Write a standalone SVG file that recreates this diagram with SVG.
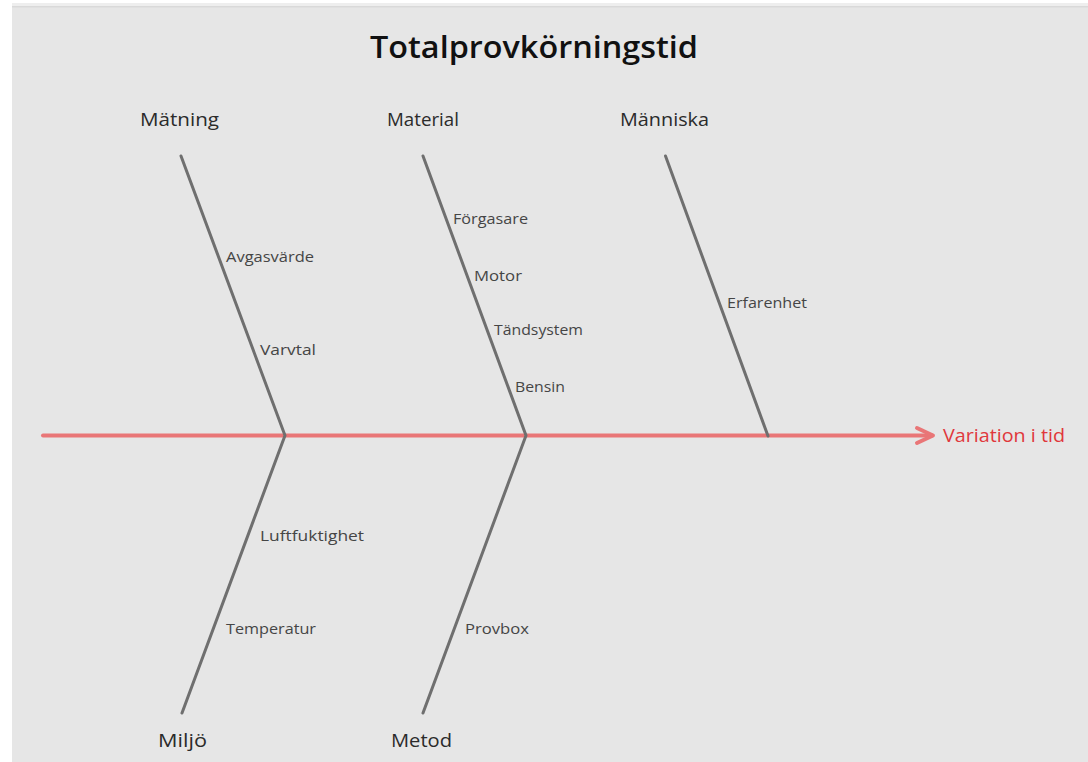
<svg xmlns="http://www.w3.org/2000/svg" width="1088" height="762" viewBox="0 0 1088 762">
  <defs>
    <style>
      .bone { fill: none; stroke: #6f6f6f; stroke-width: 3; stroke-linecap: round; stroke-linejoin: round; }
      .spine { fill: none; stroke: #e97677; stroke-width: 4; stroke-linecap: round; stroke-linejoin: round; }
      .title { font-family: "Open Sans", "Noto Sans", "Liberation Sans", sans-serif; font-size: 30px; font-weight: 600; fill: #111; }
      .cat { font-family: "Open Sans", "Noto Sans", "Liberation Sans", sans-serif; font-size: 18px; fill: #2b2b2b; }
      .cause { font-family: "Open Sans", "Noto Sans", "Liberation Sans", sans-serif; font-size: 14px; fill: #454545; }
      .effect { font-family: "Open Sans", "Noto Sans", "Liberation Sans", sans-serif; font-size: 18px; fill: #e0383c; }
    </style>
  </defs>

  <!-- canvas -->
  <rect x="0" y="0" width="1088" height="762" fill="#ffffff"/>
  <rect x="12" y="3" width="1076" height="759" fill="#e6e6e6"/>
  <rect x="12" y="3" width="1076" height="3" fill="#eeeeee"/>
  <rect x="12" y="6" width="1076" height="1.5" fill="#d9d9d9"/>

  <!-- title -->
  <text class="title" x="370" y="58" textLength="328" lengthAdjust="spacingAndGlyphs">Totalprovkörningstid</text>

  <!-- connectors: spine and category bones -->
  <g id="connectors">
    <line class="spine" x1="43" y1="435.5" x2="932" y2="435.5"/>
    <polyline class="spine" points="917,428 933,435.5 917,443"/>
    <polyline class="bone" points="181,156 285,435.5 182,713"/>
    <polyline class="bone" points="423,156 526,435.5 423,713"/>
    <line class="bone" x1="665.5" y1="156" x2="768" y2="436"/>
  </g>

  <!-- effect -->
  <g id="effect">
    <text class="effect" x="943" y="442" textLength="122" lengthAdjust="spacingAndGlyphs">Variation i tid</text>
  </g>

  <!-- categories with their causes -->
  <g id="matning">
    <text class="cat" x="140" y="126" textLength="79" lengthAdjust="spacingAndGlyphs">Mätning</text>
    <text class="cause" x="226" y="262" textLength="88" lengthAdjust="spacingAndGlyphs">Avgasvärde</text>
    <text class="cause" x="260" y="355" textLength="56" lengthAdjust="spacingAndGlyphs">Varvtal</text>
  </g>

  <g id="material">
    <text class="cat" x="387" y="126" textLength="72" lengthAdjust="spacingAndGlyphs">Material</text>
    <text class="cause" x="453" y="224" textLength="75" lengthAdjust="spacingAndGlyphs">Förgasare</text>
    <text class="cause" x="474" y="281" textLength="48" lengthAdjust="spacingAndGlyphs">Motor</text>
    <text class="cause" x="494" y="335" textLength="89" lengthAdjust="spacingAndGlyphs">Tändsystem</text>
    <text class="cause" x="515" y="392" textLength="50" lengthAdjust="spacingAndGlyphs">Bensin</text>
  </g>

  <g id="manniska">
    <text class="cat" x="620" y="126" textLength="89" lengthAdjust="spacingAndGlyphs">Människa</text>
    <text class="cause" x="727" y="308" textLength="80" lengthAdjust="spacingAndGlyphs">Erfarenhet</text>
  </g>

  <g id="miljo">
    <text class="cat" x="158" y="747" textLength="49" lengthAdjust="spacingAndGlyphs">Miljö</text>
    <text class="cause" x="260" y="541" textLength="104" lengthAdjust="spacingAndGlyphs">Luftfuktighet</text>
    <text class="cause" x="226" y="634" textLength="90" lengthAdjust="spacingAndGlyphs">Temperatur</text>
  </g>

  <g id="metod">
    <text class="cat" x="391" y="747" textLength="61" lengthAdjust="spacingAndGlyphs">Metod</text>
    <text class="cause" x="465" y="634" textLength="64" lengthAdjust="spacingAndGlyphs">Provbox</text>
  </g>
</svg>
